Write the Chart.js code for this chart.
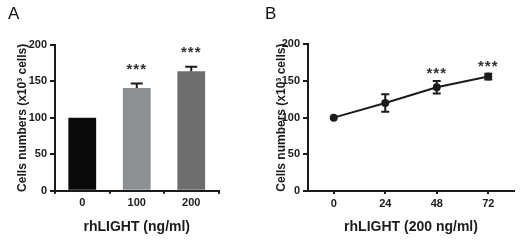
<!DOCTYPE html>
<html>
<head>
<meta charset="utf-8">
<script src="https://cdn.jsdelivr.net/npm/chart.js@4/dist/chart.umd.min.js"></script>
<style>
  body { margin: 0; background: #fff; }
  .panel { position: absolute; top: 0; width: 260px; height: 240px; }
  .tag { position: absolute; top: 6px; font: 17px "Liberation Sans", Arial, sans-serif; color: #111; line-height: 16px; }
</style>
</head>
<body>
<div class="panel" style="left:0"><canvas id="chartA" width="260" height="240"></canvas></div>
<div class="panel" style="left:260px"><canvas id="chartB" width="260" height="240"></canvas></div>
<div class="tag" style="left:8px">A</div>
<div class="tag" style="left:265px">B</div>
<script>
"use strict";

// panel A: cell counts by dose
const doses = ['0', '100', '200'];
const countsA = [100, 141, 164];
const errA = [0, 6, 6];
const starsA = ['', '***', '***'];
const barColors = ['#0a0a0a', '#8d9092', '#6c6f6d'];

// panel B: cell counts over time (hours)
const hours = [0, 24, 48, 72];
const countsB = [100, 120, 141.5, 156];
const errB = [0, 12, 8.5, 4];
const starsB = ['', '', '***', '***'];

const yTicks = [0, 50, 100, 150, 200];
const xTicksB = [0, 24, 48, 72];

const INK = '#1b1b1b';
const FONT = '"Liberation Sans", Arial, sans-serif';

Chart.defaults.font.family = FONT;
Chart.defaults.color = INK;

// error bars + significance stars, drawn from the data arrays through the scales
const errorBars = {
  id: 'errorBars',
  afterDatasetsDraw(chart, args, opts) {
    const ctx = chart.ctx;
    const ys = chart.scales.y;
    const meta = chart.getDatasetMeta(0);
    ctx.save();
    ctx.strokeStyle = INK;
    ctx.lineWidth = 2;
    opts.values.forEach((v, i) => {
      const px = meta.data[i].x;
      const top = ys.getPixelForValue(v + opts.err[i]);
      const bot = ys.getPixelForValue(opts.both ? v - opts.err[i] : v);
      if (opts.err[i] > 0) {
        ctx.beginPath();
        ctx.moveTo(px, top); ctx.lineTo(px, bot);
        ctx.moveTo(px - opts.cap, top); ctx.lineTo(px + opts.cap, top);
        if (opts.both) { ctx.moveTo(px - opts.cap, bot); ctx.lineTo(px + opts.cap, bot); }
        ctx.stroke();
      }
      if (opts.stars[i]) {
        ctx.fillStyle = '#333';
        ctx.font = 'bold 15px ' + FONT;
        ctx.textAlign = 'center';
        ctx.textBaseline = 'alphabetic';
        ctx.letterSpacing = '1px';
        ctx.fillText(opts.stars[i], px, top - opts.starGap + 9);
      }
    });
    ctx.restore();
  }
};

function yAxis(width, titlePad) {
  return {
    min: 0, max: 200,
    afterBuildTicks: s => { s.ticks = yTicks.map(v => ({ value: v })); },
    afterFit: s => { s.width = width; },
    grid: { drawOnChartArea: false, tickLength: 5, color: INK, lineWidth: 2 },
    border: { color: INK, width: 2 },
    ticks: { font: { size: 11, weight: 'bold' }, padding: 3, color: INK },
    title: {
      display: true, text: 'Cells numbers (x10³ cells)',
      font: { size: 12, weight: 'bold', lineHeight: 1.2 },
      padding: { top: titlePad, bottom: 0 }, color: INK
    }
  };
}

function xTitle(text) {
  return {
    display: true, text: text,
    font: { size: 14, weight: 'bold', lineHeight: 1.2 },
    padding: { top: 0, bottom: 4 }, color: INK
  };
}

new Chart(document.getElementById('chartA'), {
  type: 'bar',
  data: {
    labels: doses,
    datasets: [{ data: countsA, backgroundColor: barColors, barPercentage: 0.51, categoryPercentage: 1 }]
  },
  options: {
    responsive: false,
    animation: false,
    layout: { padding: { top: 45, right: 41.5, left: 0, bottom: 0 } },
    plugins: {
      legend: { display: false },
      tooltip: { enabled: false },
      errorBars: { values: countsA, err: errA, stars: starsA, both: false, cap: 6, starGap: 19 }
    },
    scales: {
      x: {
        afterFit: s => { s.height = 49.3; },
        grid: { drawOnChartArea: false, tickLength: 3, color: INK, lineWidth: 2 },
        border: { color: INK, width: 2 },
        ticks: { font: { size: 11, weight: 'bold' }, padding: 3, color: INK },
        title: xTitle('rhLIGHT (ng/ml)')
      },
      y: yAxis(55, 15)
    }
  },
  plugins: [errorBars]
});

new Chart(document.getElementById('chartB'), {
  type: 'line',
  data: {
    datasets: [{
      data: hours.map((h, i) => ({ x: h, y: countsB[i] })),
      borderColor: INK, borderWidth: 2,
      pointBackgroundColor: INK, pointBorderColor: INK, pointRadius: 3
    }]
  },
  options: {
    responsive: false,
    animation: false,
    layout: { padding: { top: 44.3, right: 5, left: 0, bottom: 0 } },
    plugins: {
      legend: { display: false },
      tooltip: { enabled: false },
      errorBars: { values: countsB, err: errB, stars: starsB, both: true, cap: 4, starGap: 12 }
    },
    scales: {
      x: {
        type: 'linear', min: -12, max: 84,
        afterBuildTicks: s => { s.ticks = xTicksB.map(v => ({ value: v })); },
        afterFit: s => { s.height = 49; },
        grid: { drawOnChartArea: false, tickLength: 3, color: INK, lineWidth: 2 },
        border: { color: INK, width: 2 },
        ticks: { font: { size: 11, weight: 'bold' }, padding: 3, color: INK },
        title: xTitle('rhLIGHT (200 ng/ml)')
      },
      y: yAxis(48, 14)
    }
  },
  plugins: [errorBars]
});
</script>
</body>
</html>
